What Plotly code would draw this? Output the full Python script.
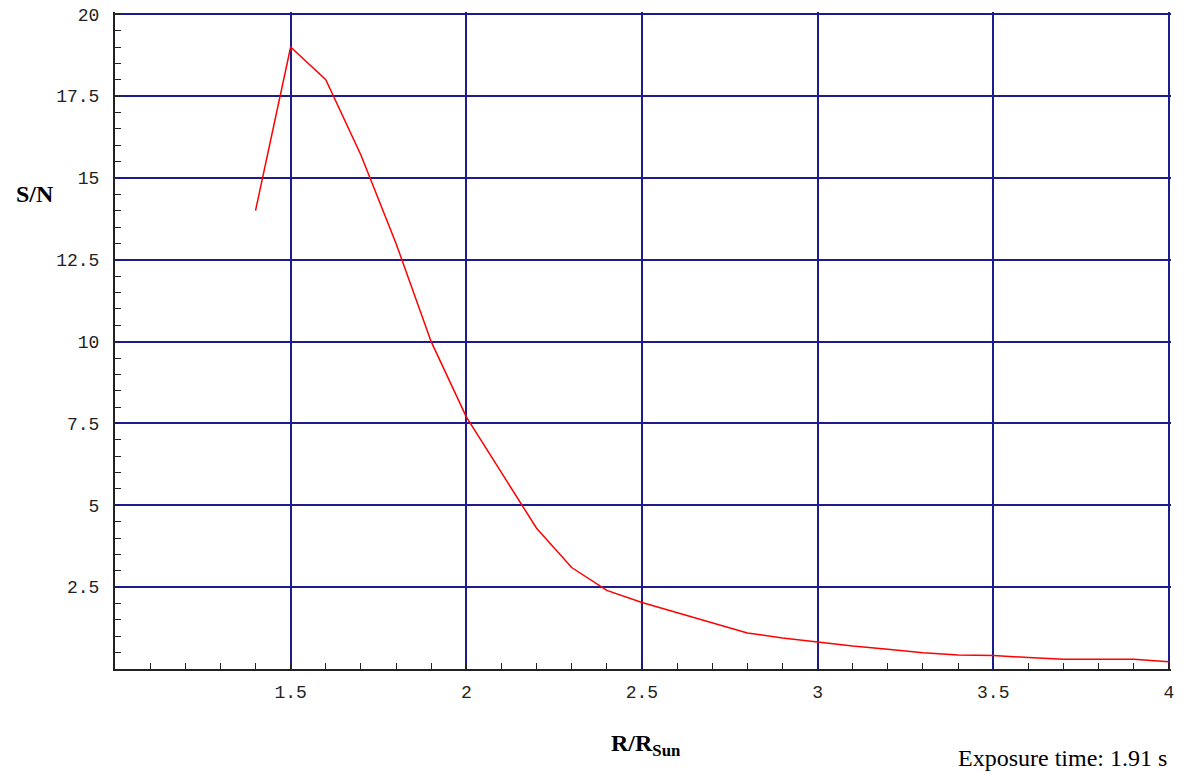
import plotly.graph_objects as go

r_values = [1.4, 1.5, 1.6, 1.7, 1.8, 1.9, 2.0, 2.1, 2.2, 2.3, 2.4, 2.5, 2.6, 2.7, 2.8, 2.9,
            3.0, 3.1, 3.2, 3.3, 3.4, 3.5, 3.6, 3.7, 3.8, 3.9, 4.0]
sn_values = [14.0, 19.0, 18.0, 15.7, 13.0, 10.0, 7.7, 6.0, 4.3, 3.1, 2.4, 2.03, 1.72, 1.42, 1.1, 0.95,
             0.82, 0.7, 0.6, 0.5, 0.43, 0.41, 0.35, 0.3, 0.3, 0.3, 0.22]

x_ticks = [1.5, 2, 2.5, 3, 3.5, 4]
x_ticklabels = ["1.5", "2", "2.5", "3", "3.5", "4"]
y_ticks = [2.5, 5, 7.5, 10, 12.5, 15, 17.5, 20]
y_ticklabels = ["2.5", "5", "7.5", "10", "12.5", "15", "17.5", "20"]

grid_color = "#1c1c8e"
tick_font = dict(family="Liberation Mono", size=18, color="#222222")

fig = go.Figure()
fig.add_trace(go.Scatter(x=r_values, y=sn_values, mode="lines",
                         line=dict(color="#ff0000", width=1.5), showlegend=False))

fig.update_xaxes(range=[1, 4.006], tickvals=x_ticks, ticktext=x_ticklabels, automargin=False,
                 showgrid=True, gridcolor=grid_color, gridwidth=2,
                 showline=True, linecolor="#222222", linewidth=2,
                 ticks="inside", ticklen=6, tickcolor="#222222",
                 minor=dict(dtick=0.1, ticks="inside", ticklen=6, tickcolor="#222222", showgrid=False),
                 tickfont=tick_font, zeroline=False, ticklabelstandoff=5,
                 ticklabeloverflow="allow")
fig.update_yaxes(range=[0, 20.07], tickvals=y_ticks, ticktext=y_ticklabels, automargin=False,
                 showgrid=True, gridcolor=grid_color, gridwidth=2,
                 showline=True, linecolor="#222222", linewidth=2,
                 ticks="inside", ticklen=6, tickcolor="#222222",
                 minor=dict(dtick=0.5, ticks="inside", ticklen=6, tickcolor="#222222", showgrid=False),
                 tickfont=tick_font, zeroline=False, ticklabelstandoff=10,
                 ticklabeloverflow="allow")

fig.add_annotation(text="<b>S/N</b>", xref="paper", yref="paper", x=-0.0759, y=0.7237,
                   xanchor="center", yanchor="middle", showarrow=False,
                   font=dict(family="Liberation Serif", size=24, color="black"))
fig.add_annotation(text="<b>R/R<sub>Sun</sub></b>", xref="paper", yref="paper", x=0.5024, y=-0.116,
                   xanchor="center", yanchor="middle", showarrow=False,
                   font=dict(family="Liberation Serif", size=24, color="black"))
fig.add_annotation(text="Exposure time: 1.91 s", xref="paper", yref="paper", x=0.998, y=-0.136,
                   xanchor="right", yanchor="middle", showarrow=False,
                   font=dict(family="Liberation Serif", size=24, color="black"))

fig.update_layout(width=1188, height=773, plot_bgcolor="white", paper_bgcolor="white",
                  margin=dict(l=107, r=25, t=4, b=112))
fig.write_html("out.html")
